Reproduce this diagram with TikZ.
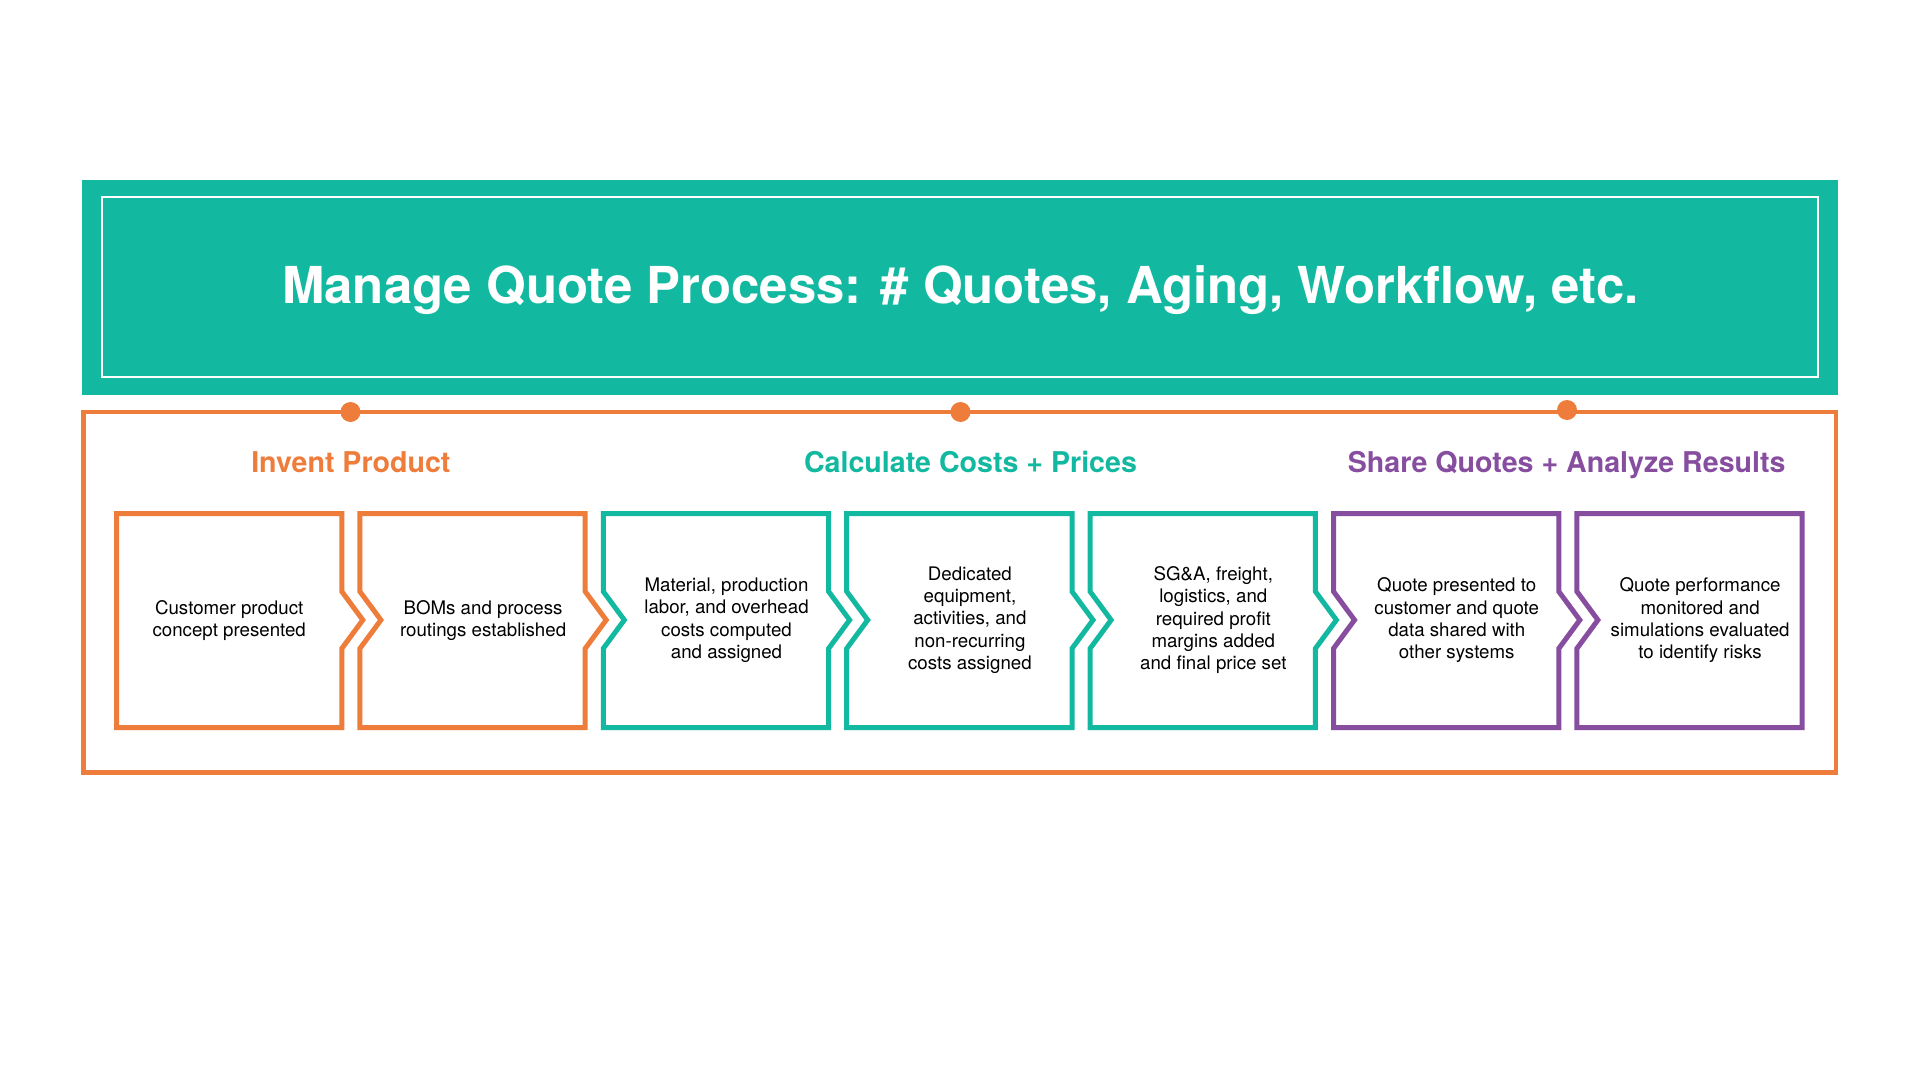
\documentclass[tikz,border=0pt]{standalone}
\usepackage{fontspec}
\setmainfont{TeX Gyre Heros}
\definecolor{tealc}{HTML}{13B8A0}
\definecolor{orngc}{HTML}{EE7D3B}
\definecolor{purpc}{HTML}{874EA0}
\tikzset{
  titletext/.style={anchor=base, text=white, font=\fontsize{50.9}{60}\selectfont\bfseries, inner sep=0},
  headtext/.style={anchor=base, font=\fontsize{28.6}{34}\selectfont\bfseries, inner sep=0},
  boxtext/.style={align=center, text=black, font=\fontsize{18.7}{22.2}\selectfont, inner sep=0},
  stepframe/.style={line width=5pt, line join=miter, miter limit=10},
}
\begin{document}
\begin{tikzpicture}[x=1pt,y=-1pt]
\useasboundingbox (0,0) rectangle (1921,1081);
\fill[white] (0,0) rectangle (1921,1081);
% banner
\fill[tealc] (82,180) rectangle (1838,395);
\draw[white, line width=2pt] (101.7,197) rectangle (1818.3,377);
\node[titletext] (title) at (960.5,303) {Manage Quote Process: \# Quotes, Aging, Workflow, etc.};
% frame
\draw[orngc, line width=4.5pt] (83.5,412) rectangle (1835.8,772.5);
\fill[orngc] (350.5,412) circle (10pt);
\fill[orngc] (960.5,412) circle (10pt);
\fill[orngc] (1567,410) circle (10pt);
% headings
\node[headtext, text=orngc] (h1) at (350.9,472) {Invent Product};
\node[headtext, text=tealc] (h2) at (970.5,472) {Calculate Costs + Prices};
\node[headtext, text=purpc] (h3) at (1566.7,472) {Share Quotes + Analyze Results};
% step boxes
\foreach \k/\col in {0/orngc,1/orngc,2/tealc,3/tealc,4/tealc,5/purpc,6/purpc} {
  \pgfmathsetmacro\L{116.5+243.4*\k}
  \pgfmathsetmacro\R{\L+225.3}
  \pgfmathsetmacro\Rt{\R+21}
  \pgfmathsetmacro\Lt{\L+21}
  \ifnum\k<6 \edef\rside{-- (\R,591.5) -- (\Rt,620) -- (\R,648.5)}\else\def\rside{}\fi
  \ifnum\k>0 \edef\lside{-- (\L,648.5) -- (\Lt,620) -- (\L,591.5)}\else\def\lside{}\fi
  \draw[stepframe, draw=\col] (\L,513.5) -- (\R,513.5) \rside -- (\R,727.5) -- (\L,727.5) \lside -- cycle;
}
\node[boxtext] (t1) at (229.2,620.2) {Customer product\\concept presented};
\node[boxtext] (t2) at (483.1,620.2) {BOMs and process\\routings established};
\node[boxtext] (t3) at (726.5,620.2) {Material, production\\labor, and overhead\\costs computed\\and assigned};
\node[boxtext] (t4) at (969.9,620.2) {Dedicated\\equipment,\\activities, and\\non-recurring\\costs assigned};
\node[boxtext] (t5) at (1213.3,620.2) {SG\&A, freight,\\logistics, and\\required profit\\margins added\\and final price set};
\node[boxtext] (t6) at (1456.7,620.2) {Quote presented to\\customer and quote\\data shared with\\other systems};
\node[boxtext] (t7) at (1700.1,620.2) {Quote performance\\monitored and\\simulations evaluated\\to identify risks};
\end{tikzpicture}
\end{document}
